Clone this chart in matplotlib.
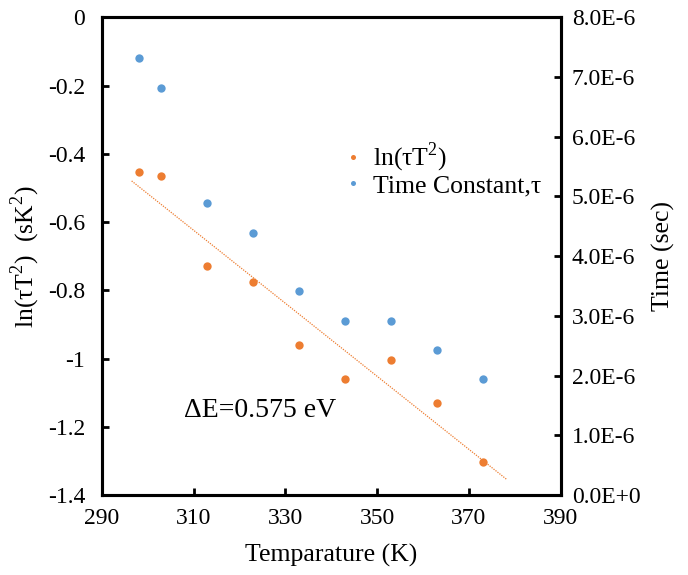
import numpy as np
import matplotlib
matplotlib.use("Agg")
import matplotlib.pyplot as plt
from matplotlib.ticker import FuncFormatter

plt.rcParams["font.family"] = ["Liberation Serif", "DejaVu Serif"]
plt.rcParams["axes.unicode_minus"] = False
plt.rcParams["mathtext.fontset"] = "custom"
plt.rcParams["mathtext.rm"] = "Liberation Serif"

# data
temps = [298, 303, 313, 323, 333, 343, 353, 363, 373]
ln_tau_t2 = [-0.454, -0.466, -0.729, -0.776, -0.961, -1.060, -1.005, -1.131, -1.303]
tau = [7.31e-6, 6.81e-6, 4.89e-6, 4.39e-6, 3.42e-6, 2.91e-6, 2.91e-6, 2.43e-6, 1.94e-6]

ORANGE = "#ED7D31"
BLUE = "#5B9BD5"
TICK_FS = 17
LAB_FS = 18.5

fig = plt.figure(figsize=(6.88, 5.75), dpi=100)
ax = fig.add_axes([0.148, 0.139, 0.667, 0.831])
ax2 = ax.twinx()

ax.plot(temps, ln_tau_t2, "o", color=ORANGE, ms=6, mec="none", label="ln(τT$^2$)", zorder=3)
ax2.plot(temps, tau, "o", color=BLUE, ms=6, mec="none", label="Time Constant,τ", zorder=3)

# linear trendline for ln(tau T^2)
k, b = np.polyfit(temps, ln_tau_t2, 1)
xt = np.array([296.5, 378.2])
ax.plot(xt, k * xt + b, linestyle=(0, (1, 1)), color=ORANGE, lw=0.9)

ax.set_xlim(290, 390)
ax.set_ylim(-1.4, 0)
ax2.set_ylim(0, 8e-6)
ax.set_xticks(np.arange(290, 391, 20))
ax.set_yticks(np.arange(-1.4, 0.01, 0.2))
ax2.set_yticks(np.arange(0, 8.01e-6, 1e-6))

ax.yaxis.set_major_formatter(FuncFormatter(lambda v, p: f"{round(v, 1):g}" if abs(v) > 1e-9 else "0"))
ax2.yaxis.set_major_formatter(FuncFormatter(
    lambda v, p: "0.0E+0" if v < 1e-9 else f"{v / 1e-6:.1f}E-6"))

for a in (ax, ax2):
    for s in a.spines.values():
        s.set_linewidth(2.2)
ax.tick_params(axis="both", direction="in", length=5, width=2, labelsize=TICK_FS)
ax.tick_params(axis="y", pad=12)
ax.tick_params(axis="x", pad=9)
ax2.tick_params(axis="y", direction="in", length=5, width=2, labelsize=TICK_FS, pad=8)

ax.set_xlabel("Temparature (K)", fontsize=LAB_FS, labelpad=11)
ax.set_ylabel("ln(τT$^2$)  (sK$^2$)", fontsize=LAB_FS, labelpad=4)
ax2.set_ylabel("Time (sec)", fontsize=LAB_FS, labelpad=8)

ax.text(308, -1.151, "ΔE=0.575 eV", fontsize=20, va="center", ha="left")

h1, l1 = ax.get_legend_handles_labels()
h2, l2 = ax2.get_legend_handles_labels()
ax.legend(h1 + h2, l1 + l2, loc="upper left", bbox_to_anchor=(0.48, 0.79),
          frameon=False, fontsize=LAB_FS, markerscale=0.6, handlelength=0.6,
          handletextpad=0.5, labelspacing=0.0)

fig.savefig("out.png", dpi=100)
